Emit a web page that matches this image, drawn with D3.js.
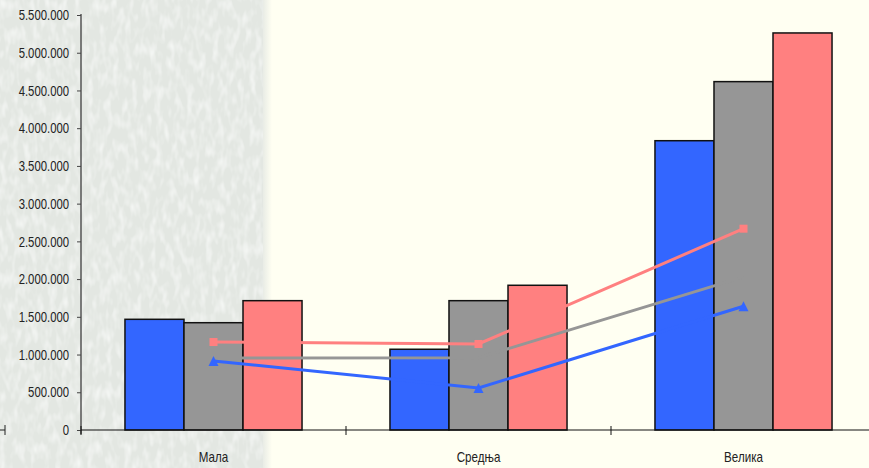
<!DOCTYPE html>
<html><head><meta charset="utf-8">
<script src="https://cdn.jsdelivr.net/npm/d3@7"></script>
<style>body{margin:0;background:#fffff2}svg{display:block}</style>
</head><body>
<script>
const categories = ["Мала", "Средња", "Велика"];
const barBlue = [1467000, 1070000, 3834000];
const barGray = [1422000, 1714000, 4617000];
const barSalmon = [1714000, 1918000, 5262000];
const lineSalmon = [1166000, 1140000, 2668000];
const lineGray = [955000, 958000, 2030000];
const lineBlue = [915000, 557000, 1640000];
const yTicks = [0, 500000, 1000000, 1500000, 2000000, 2500000, 3000000, 3500000, 4000000, 4500000, 5000000, 5500000];

const W = 869, H = 468;
const svg = d3.select("body").append("svg").attr("width", W).attr("height", H);
const defs = svg.append("defs");
const f = defs.append("filter").attr("id", "tex").attr("x", 0).attr("y", 0).attr("width", 1).attr("height", 1);
f.append("feTurbulence").attr("type", "fractalNoise").attr("baseFrequency", "0.16 0.07").attr("numOctaves", 2).attr("seed", 5).attr("result", "n");
f.append("feColorMatrix").attr("in", "n").attr("type", "matrix")
  .attr("values", "0 0 0 0 0.98  0 0 0 0 0.99  0 0 0 0 0.98  1.4 0 0 0 -0.6").attr("result", "c");
f.append("feComposite").attr("in", "c").attr("in2", "SourceGraphic").attr("operator", "over");
const grad = defs.append("linearGradient").attr("id", "fade").attr("x1", 0).attr("x2", 1);
grad.append("stop").attr("offset", "0.96").attr("stop-color", "#e4e8e3");
grad.append("stop").attr("offset", "1").attr("stop-color", "#e4e8e3").attr("stop-opacity", 0);

svg.append("rect").attr("width", W).attr("height", H).attr("fill", "#fffff2");
svg.append("rect").attr("width", 272).attr("height", H).attr("fill", "url(#fade)");
svg.append("rect").attr("width", 263).attr("height", H).attr("fill", "#e3e7e2").attr("filter", "url(#tex)");

const x = d3.scaleBand().domain(categories).range([81, 876]).paddingInner(0).paddingOuter(0);
const inner = d3.scaleBand().domain([0, 1, 2]).range([0, x.bandwidth()]).paddingInner(0).paddingOuter(0.745);
const y = d3.scaleLinear().domain([0, 5500000]).range([430, 15]);

const fmt = v => d3.format(",")(v).replace(/,/g, ".");
const FONT = "'Liberation Sans','Arial',sans-serif";
function condense(sel, k) {
  sel.each(function () {
    const L = this.getComputedTextLength();
    d3.select(this).attr("textLength", L * k).attr("lengthAdjust", "spacingAndGlyphs");
  });
}

// bars
const series = [[barBlue, "#3366ff"], [barGray, "#969696"], [barSalmon, "#ff8080"]];
series.forEach(([vals, col], si) => {
  svg.append("g").selectAll("rect").data(vals).join("rect")
    .attr("x", (d, i) => x(categories[i]) + inner(si))
    .attr("y", d => y(d))
    .attr("width", inner.bandwidth())
    .attr("height", d => y(0) - y(d))
    .attr("fill", col).attr("stroke", "#111").attr("stroke-width", 1.5);
});

// axes
const yAxis = d3.axisLeft(y).tickValues(yTicks).tickFormat(fmt).tickSize(4).tickPadding(8);
const gy = svg.append("g").attr("transform", "translate(81,0)").call(yAxis);
gy.select(".domain").attr("stroke", "#555").attr("stroke-width", 1.5).attr("d", "M0,14V434");
gy.selectAll(".tick line").attr("stroke", "#444");
gy.selectAll("text").attr("font-family", FONT).attr("font-size", "14.5px").attr("fill", "#222");
condense(gy.selectAll("text"), 0.78);

const gx = svg.append("g").attr("transform", "translate(0,430)");
gx.append("line").attr("x1", 81).attr("x2", W).attr("stroke", "#111").attr("stroke-width", 1);
const bounds = categories.map(c => x(c)).concat([x.range()[1]]);
gx.selectAll("line.t").data(bounds).join("line").attr("class", "t")
  .attr("x1", d => d).attr("x2", d => d).attr("y1", -4).attr("y2", 5).attr("stroke", "#111");
const xl = gx.selectAll("text").data(categories).join("text")
  .attr("x", d => x(d) + x.bandwidth() / 2).attr("y", 32).attr("text-anchor", "middle")
  .attr("font-family", FONT).attr("font-size", "14.5px").attr("fill", "#222")
  .text(d => d);
condense(xl, 0.8);
// stray axis fragment at left edge
gx.append("path").attr("d", "M0,0H5M5,-5V5").attr("stroke", "#222").attr("fill", "none");

// lines
const cx = c => x(c) + x.bandwidth() / 2;
const lineGen = d3.line().x((d, i) => cx(categories[i])).y(d => y(d));
[[lineSalmon, "#ff8080"], [lineGray, "#969696"], [lineBlue, "#3366ff"]].forEach(([vals, col]) => {
  svg.append("path").datum(vals).attr("d", lineGen).attr("fill", "none").attr("stroke", col).attr("stroke-width", 3);
});
svg.append("g").selectAll("rect").data(lineSalmon).join("rect")
  .attr("x", (d, i) => cx(categories[i]) - 4).attr("y", d => y(d) - 4)
  .attr("width", 8).attr("height", 8).attr("fill", "#ff8080");
svg.append("g").selectAll("path").data(lineBlue).join("path")
  .attr("d", (d, i) => { const px = cx(categories[i]), py = y(d); return `M${px-5},${py+5}L${px},${py-5}L${px+5},${py+5}Z`; })
  .attr("fill", "#3366ff");
</script>
</body></html>
